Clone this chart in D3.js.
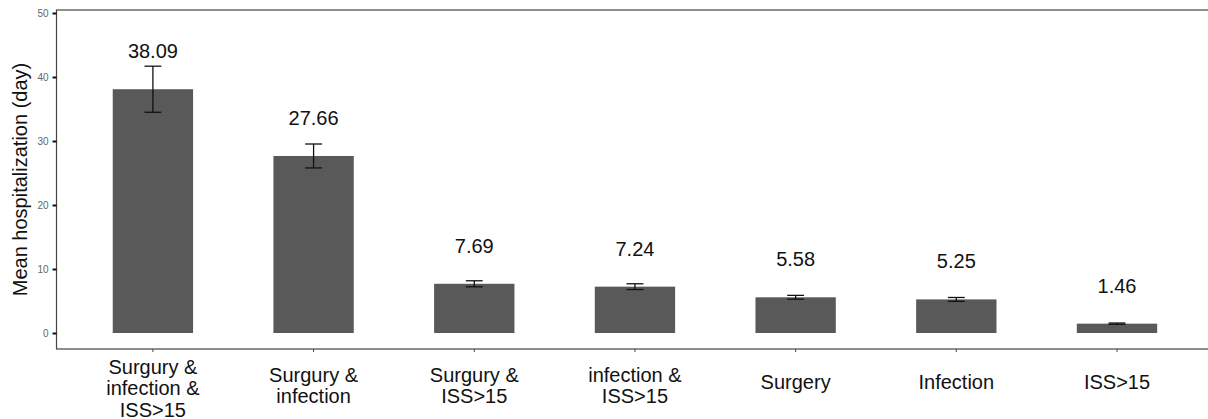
<!DOCTYPE html>
<html>
<head>
<meta charset="utf-8">
<script src="https://cdn.jsdelivr.net/npm/d3@7"></script>
<style>
  html, body { margin: 0; padding: 0; background: #fff; }
  svg { display: block; }
  text { font-family: "Liberation Sans", Arial, sans-serif; }
</style>
</head>
<body>
<svg id="chart" width="1208" height="419"></svg>
<script>
const categories = [
  ["Surgury &", "infection &", "ISS>15"],
  ["Surgury &", "infection"],
  ["Surgury &", "ISS>15"],
  ["infection &", "ISS>15"],
  ["Surgery"],
  ["Infection"],
  ["ISS>15"]
];
const means = [38.09, 27.66, 7.69, 7.24, 5.58, 5.25, 1.46];
const errors = [3.6, 1.87, 0.47, 0.45, 0.3, 0.3, 0.1];
const yTicks = [0, 10, 20, 30, 40, 50];
const yTitle = "Mean hospitalization (day)";

const svg = d3.select("#chart");
const panel = { left: 56.5, right: 1213.4, top: 10, bottom: 349 };

const keys = categories.map((c, i) => i);
const x = d3.scaleBand()
  .domain(keys)
  .range([panel.left, panel.right])
  .paddingInner(0.5)
  .paddingOuter(0.35);

const y = d3.scaleLinear()
  .domain([-2.5, 52.5])
  .range([panel.bottom, -3]);

// bars
svg.append("g").selectAll("rect")
  .data(means)
  .join("rect")
  .attr("x", (d, i) => x(i))
  .attr("width", x.bandwidth())
  .attr("y", d => y(d))
  .attr("height", d => y(0) - y(d))
  .attr("fill", "#595959");

// error bars
const capW = x.bandwidth() * 0.21;
const eg = svg.append("g").attr("stroke", "#111").attr("stroke-width", 1.3).attr("fill", "none");
means.forEach((m, i) => {
  const cx = x(i) + x.bandwidth() / 2;
  const hi = y(m + errors[i]), lo = y(m - errors[i]);
  eg.append("line").attr("x1", cx).attr("x2", cx).attr("y1", hi).attr("y2", lo);
  eg.append("line").attr("x1", cx - capW / 2).attr("x2", cx + capW / 2).attr("y1", hi).attr("y2", hi);
  eg.append("line").attr("x1", cx - capW / 2).attr("x2", cx + capW / 2).attr("y1", lo).attr("y2", lo);
});

// value labels
svg.append("g").selectAll("text")
  .data(means)
  .join("text")
  .attr("x", (d, i) => x(i) + x.bandwidth() / 2)
  .attr("y", d => y(d) - 31)
  .attr("text-anchor", "middle")
  .attr("font-size", 20)
  .attr("fill", "#111")
  .text(d => d.toFixed(2));

// panel border
svg.append("rect")
  .attr("x", panel.left).attr("y", panel.top)
  .attr("width", panel.right - panel.left).attr("height", panel.bottom - panel.top)
  .attr("fill", "none").attr("stroke", "#444").attr("stroke-width", 1.2);

// y axis
const yAxis = d3.axisLeft(y).tickValues(yTicks).tickSize(4).tickPadding(4);
const yg = svg.append("g").attr("transform", `translate(${panel.left},0)`).call(yAxis);
yg.select(".domain").remove();
yg.selectAll(".tick line").attr("stroke", "#111").attr("stroke-width", 2);
yg.selectAll(".tick text").attr("font-size", 10).attr("fill", "#666")
  .attr("font-family", '"Liberation Sans", Arial, sans-serif');

// x axis
const xAxis = d3.axisBottom(x).tickSize(3).tickFormat("");
const xg = svg.append("g").attr("transform", `translate(0,${panel.bottom})`).call(xAxis);
xg.select(".domain").remove();
xg.selectAll(".tick line").attr("stroke", "#444").attr("stroke-width", 1);

// x labels (multi-line)
const lg = svg.append("g");
categories.forEach((lines, i) => {
  const cx = x(i) + x.bandwidth() / 2;
  const base = 389 - 7.5 * (lines.length - 1);
  const t = lg.append("text")
    .attr("text-anchor", "middle")
    .attr("font-size", 20)
    .attr("fill", "#111");
  lines.forEach((ln, j) => {
    t.append("tspan").attr("x", cx).attr("y", base + j * 21.3).text(ln);
  });
});

// y title
svg.append("text")
  .attr("transform", `translate(27,${(panel.top + panel.bottom) / 2}) rotate(-90)`)
  .attr("text-anchor", "middle")
  .attr("font-size", 20)
  .attr("fill", "#111")
  .text(yTitle);
</script>
</body>
</html>
